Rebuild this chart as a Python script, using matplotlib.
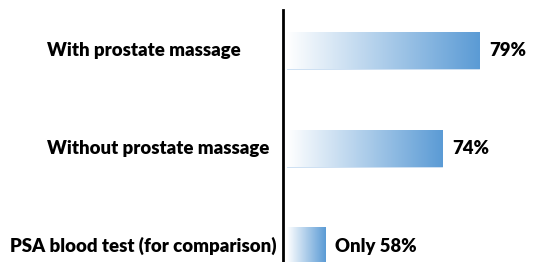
import numpy as np
import matplotlib.pyplot as plt
from matplotlib.colors import LinearSegmentedColormap

# data
categories = ["With prostate massage", "Without prostate massage", "PSA blood test (for comparison)"]
values = [79, 74, 58]
value_labels = ["79%", "74%", "Only 58%"]

plt.rcParams['font.family'] = ['Lato', 'DejaVu Sans']

W, H = 537, 262
fig = plt.figure(figsize=(W / 100, H / 100), dpi=100)
ax = fig.add_axes([283 / W, 0, 1 - 283 / W, (H - 10) / H])

base = 52.8  # chart is not drawn to a zero baseline
ypos = np.arange(len(values))
bars = ax.barh(ypos, [v - base for v in values], left=base, height=0.38,
               color='none', edgecolor='#c5dbf0', linewidth=0.6)

cmap = LinearSegmentedColormap.from_list('grad', ['#ffffff', '#5b9bd5'])
grad = np.linspace(0, 1, 256).reshape(1, -1)
for b in bars:
    x0, y0 = b.get_x(), b.get_y()
    im = ax.imshow(grad, cmap=cmap, aspect='auto', interpolation='bilinear',
                   extent=[x0, x0 + b.get_width(), y0 + b.get_height(), y0], zorder=1)
    im.set_clip_path(b)

for b, lab in zip(bars, value_labels):
    ax.annotate(lab, (b.get_x() + b.get_width(), b.get_y() + b.get_height() / 2),
                xytext=(7, 0), textcoords='offset points', va='center', ha='left',
                fontsize=13.3, fontweight='heavy', color='#000000')

# category labels to the left of the axis line
label_cx = [144, 158, 143]
for y, cat, cx in zip(ypos, categories, label_cx):
    ax.text((cx - 283) / (W - 283), y, cat, transform=ax.get_yaxis_transform(),
            ha='center', va='center', fontsize=13.4, fontweight='heavy', color='#000000')

ax.set_xlim(52.25, 86.9)
ax.set_ylim(2.164, -0.42)
for s in ['top', 'right', 'bottom']:
    ax.spines[s].set_visible(False)
ax.spines['left'].set_linewidth(2)
ax.set_xticks([])
ax.set_yticks([])

fig.savefig('out.png', dpi=100)
